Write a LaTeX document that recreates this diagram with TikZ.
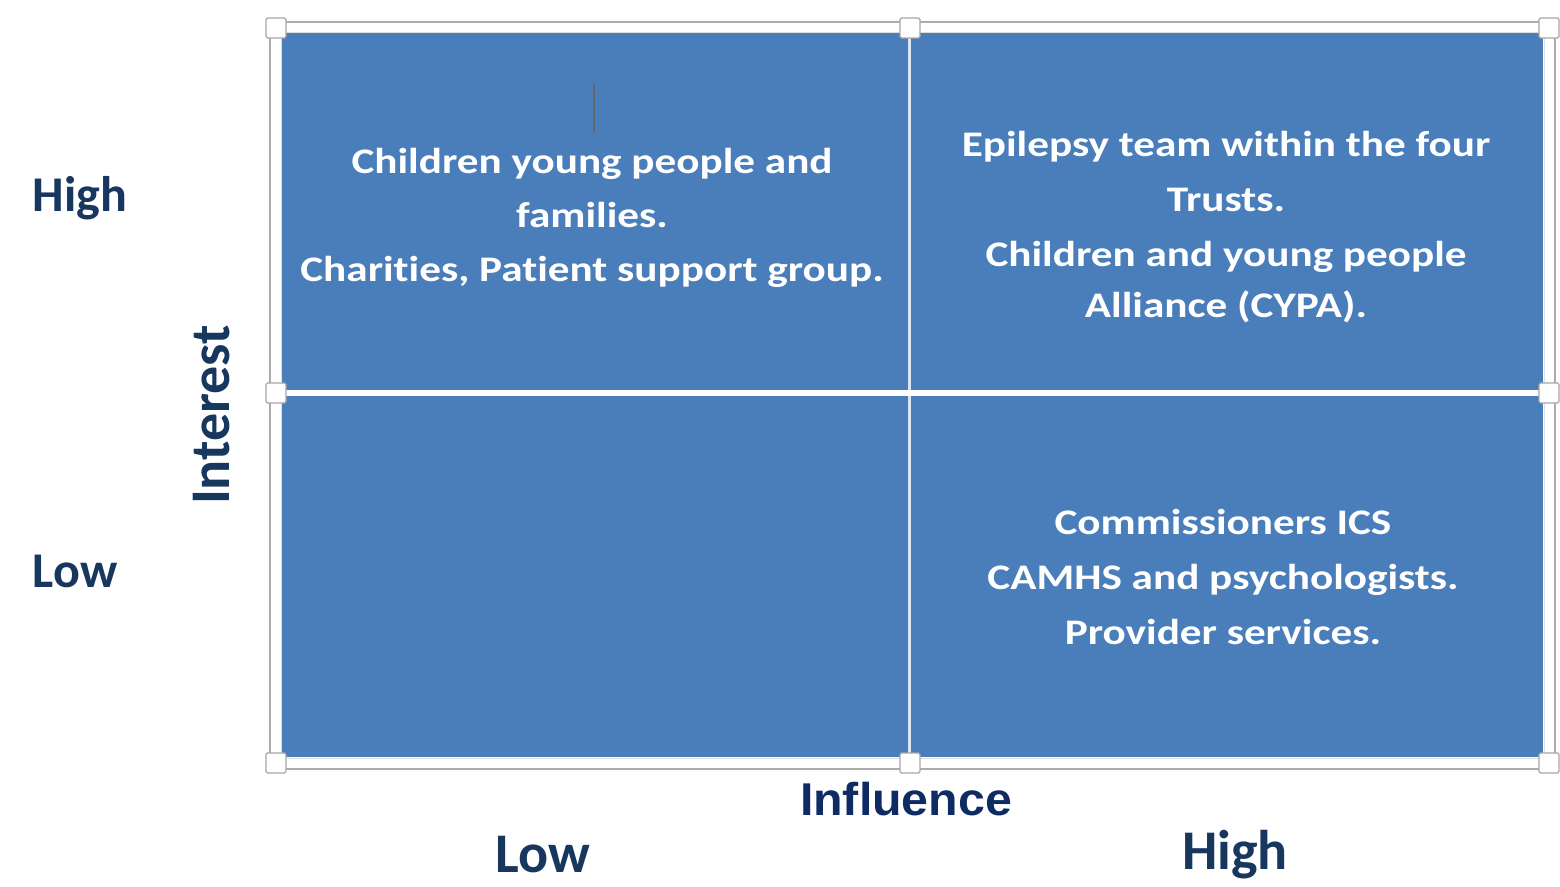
\documentclass[tikz,border=0pt]{standalone}
\usepackage{fontspec}
\setmainfont{Carlito}[Ligatures={NoCommon,NoContextual}]
\newfontfamily\arialfont{Liberation Sans}
\definecolor{qblue}{HTML}{4A7EBB}
\definecolor{navy}{HTML}{17375E}
\definecolor{navyb}{HTML}{0F2B64}
\definecolor{divline}{HTML}{DCE6F2}
\begin{document}
\begin{tikzpicture}[x=1pt,y=-1pt,
  handle/.style={draw=gray!70,fill=white,line width=1.2pt,rounded corners=1.5pt,minimum size=20pt,inner sep=0pt},
  qtext/.style={text=white,font=\fontsize{36}{54}\selectfont\bfseries,align=center,inner sep=0pt,xscale=1.2},
  axlabel/.style={text=navy,font=\fontsize{50}{54}\selectfont\bfseries,inner sep=0pt},
  biglabel/.style={text=navy,font=\fontsize{56}{60}\selectfont\bfseries,inner sep=0pt}]
\useasboundingbox (0,0) rectangle (1560,886);
% frame
\draw[draw=gray!65,line width=2pt,fill=white] (270,22) rectangle (1555,769);
\fill[qblue] (282,33) rectangle (1543,757);
\draw[gray!25,line width=0.8pt] (281,32) rectangle (1544,758);
% dividers
\coordinate (vt) at (909,33);
\coordinate (vb) at (909,757);
\coordinate (hl) at (282,393);
\coordinate (hr) at (1543,393);
\draw[divline,line width=3pt] (vt) -- (vb);
\draw[white,line width=6pt] (hl) -- (hr);
% cursor
\coordinate (c1) at (594,83);
\coordinate (c2) at (594,133);
\draw[gray!80!black,line width=1.3pt] (c1) -- (c2);
% handles
\node[handle] (h1) at (276,28) {};
\node[handle] (h2) at (910,28) {};
\node[handle] (h3) at (1549,28) {};
\node[handle] (h4) at (276,393) {};
\node[handle] (h5) at (1549,393) {};
\node[handle] (h6) at (276,763) {};
\node[handle] (h7) at (910,763) {};
\node[handle] (h8) at (1549,763) {};
% quadrant texts
\node[qtext] (q1) at (592,218) {Children young people and\\families.\\Charities, Patient support group.};
\node[qtext,font=\fontsize{36}{55}\selectfont\bfseries] (q2) at (1226,227) {Epilepsy team within the four\\Trusts.\\Children and young people\\[-4pt]Alliance (CYPA).};
\node[qtext,font=\fontsize{36}{55}\selectfont\bfseries] (q4) at (1223,577) {Commissioners ICS\\CAMHS and psychologists.\\Provider services.};
% axis labels
\node[axlabel] (yhigh) at (80,198) {High};
\node[axlabel] (ylow) at (75,571) {Low};
\node[biglabel,rotate=90] (yint) at (212,415) {Interest};
\node[text=navyb,font=\arialfont\fontsize{46}{50}\selectfont\bfseries,inner sep=0pt,xscale=1.05] (xinf) at (906,799) {Influence};
\node[biglabel] (xlow) at (543,855) {Low};
\node[biglabel] (xhigh) at (1235,855) {High};
\end{tikzpicture}
\end{document}
